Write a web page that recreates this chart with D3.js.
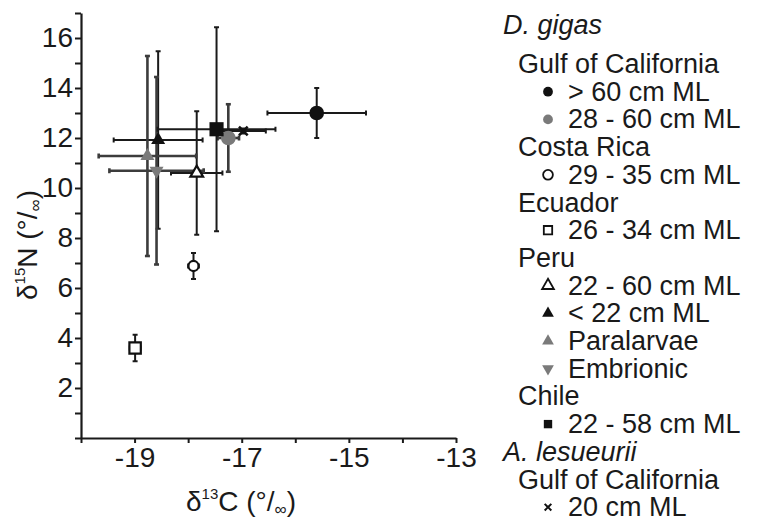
<!DOCTYPE html>
<html>
<head>
  <meta charset="utf-8">
  <title>d15N vs d13C</title>
  <script src="https://d3js.org/d3.v7.min.js"></script>
<style>
  body { margin: 0; background: #fff; }
  text { font-family: "Liberation Sans", Arial, sans-serif; fill: #1a1a1a; }
</style>
</head>
<body>
<div id="chart"></div>
<script>
// data
var labels = ["> 60 cm ML", "28 - 60 cm ML", "29 - 35 cm ML", "26 - 34 cm ML", "22 - 60 cm ML",
              "< 22 cm ML", "Paralarvae", "Embrionic", "22 - 58 cm ML", "20 cm ML"];
var d13C   = [-15.6, -17.25, -17.9, -18.99, -17.84, -18.56, -18.76, -18.59, -17.47, -16.97];
var d15N   = [13.0, 12.0, 6.88, 3.6, 10.6, 11.92, 11.28, 10.69, 12.35, 12.28];
var sdC    = [0.92, 0.2, 0.1, 0.1, 0.48, 0.83, 0.91, 0.88, 1.1, 0.42];
var sdN    = [1.0, 1.35, 0.52, 0.53, 2.47, 3.55, 4.0, 3.75, 4.08, 0.1];
var shapes = ["circle", "circle", "circle", "square", "triangle", "triangle", "triangle", "down", "square", "x"];
var fills  = ["black", "gray", "open", "open", "open", "black", "gray", "gray", "black", "black"];

// legend rows: [text, italic?, indent level, series index or -1]
var legendRows = [
  ["D. gigas", true, 0, -1],
  ["Gulf of California", false, 1, -1],
  [labels[0], false, 2, 0],
  [labels[1], false, 2, 1],
  ["Costa Rica", false, 1, -1],
  [labels[2], false, 2, 2],
  ["Ecuador", false, 1, -1],
  [labels[3], false, 2, 3],
  ["Peru", false, 1, -1],
  [labels[4], false, 2, 4],
  [labels[5], false, 2, 5],
  [labels[6], false, 2, 6],
  [labels[7], false, 2, 7],
  ["Chile", false, 1, -1],
  [labels[8], false, 2, 8],
  ["A. lesueurii", true, 0, -1],
  ["Gulf of California", false, 1, -1],
  [labels[9], false, 2, 9]
];

var xTicks = d3.range(-20, -12.5, 1);
var yTicks = d3.range(0, 17.5, 1);

var width = 761, height = 524;
var margin = {top: 13, left: 81};
var plotW = 375, plotH = 425;

var svg = d3.select("#chart").append("svg")
  .attr("width", width)
  .attr("height", height);

var g = svg.append("g")
  .attr("transform", "translate(" + margin.left + "," + margin.top + ")");

var x = d3.scaleLinear().domain([-20, -13]).range([0, plotW]);
var y = d3.scaleLinear().domain([0, 17]).range([plotH, 0]);

var data = labels.map(function(l, i) {
  return {label: l, x: d13C[i], y: d15N[i], ex: sdC[i], ey: sdN[i], shape: shapes[i], fill: fills[i]};
});

var colour = {black: "#111", gray: "#7a7a7a", open: "#fff"};
var barColour = {black: "#1a1a1a", gray: "#3c3c3c", open: "#1a1a1a"};

// custom symbols
var symDown = {
  draw: function(ctx, size) {
    var s = Math.sqrt(size / (Math.sqrt(3) / 4)), h = s * Math.sqrt(3) / 2;
    ctx.moveTo(0, h * 2 / 3);
    ctx.lineTo(s / 2, -h / 3);
    ctx.lineTo(-s / 2, -h / 3);
    ctx.closePath();
  }
};
var symX = {
  draw: function(ctx, size) {
    var r = Math.sqrt(size) / 2, w = r * 0.35;
    ctx.moveTo(-r, -r + w); ctx.lineTo(-w, 0); ctx.lineTo(-r, r - w);
    ctx.lineTo(-r + w, r); ctx.lineTo(0, w); ctx.lineTo(r - w, r);
    ctx.lineTo(r, r - w); ctx.lineTo(w, 0); ctx.lineTo(r, -r + w);
    ctx.lineTo(r - w, -r); ctx.lineTo(0, -w); ctx.lineTo(-r + w, -r);
    ctx.closePath();
  }
};
function symType(s) {
  if (s == "circle") return d3.symbolCircle;
  if (s == "square") return d3.symbolSquare;
  if (s == "triangle") return d3.symbolTriangle;
  if (s == "down") return symDown;
  return symX;
}
function plotSize(d) {
  if (d.shape == "circle") return d.fill == "open" ? 80 : 170;
  if (d.shape == "square") return d.fill == "open" ? 130 : 200;
  if (d.shape == "x") return 110;
  return d.fill == "open" ? 70 : 85;
}
var legSize = {circle: 75, square: 70, triangle: 60, down: 60, x: 65};

// axes
var yAxis = g.append("g")
  .call(d3.axisLeft(y).tickValues(yTicks).tickSize(6).tickSizeOuter(0)
    .tickFormat(function(d) { return (d % 2 == 0 && d > 0) ? d : ""; }));
var xAxis = g.append("g")
  .attr("transform", "translate(0," + plotH + ")")
  .call(d3.axisBottom(x).tickValues(xTicks).tickSize(5).tickSizeOuter(0)
    .tickFormat(function(d) { return (Math.abs(d) % 2 == 1) ? d3.format("d")(d).replace("−", "-") : ""; }));

[xAxis, yAxis].forEach(function(a) {
  a.select(".domain").attr("stroke", "#1a1a1a").attr("stroke-width", 2.2);
  a.selectAll(".tick line").attr("stroke", "#1a1a1a").attr("stroke-width", 2);
  a.selectAll(".tick text").style("font-size", "28px").attr("fill", "#1a1a1a")
    .style("font-family", "'Liberation Sans', Arial, sans-serif");
});
yAxis.selectAll(".tick text").attr("x", -8);
xAxis.selectAll(".tick text").attr("y", 9);

// axis titles
var xt = svg.append("text")
  .attr("x", margin.left + 160).attr("y", 511)
  .attr("text-anchor", "middle").style("font-size", "28px");
xt.append("tspan").text("δ");
xt.append("tspan").attr("dy", -12).style("font-size", "15px").text("13");
xt.append("tspan").attr("dy", 12).text("C (°/");
xt.append("tspan").attr("dy", 4).style("font-size", "17px").text("∞");
xt.append("tspan").attr("dy", -4).text(")");

var yt = svg.append("text")
  .attr("transform", "translate(37,245) rotate(-90)")
  .attr("text-anchor", "middle").style("font-size", "28px");
yt.append("tspan").text("δ");
yt.append("tspan").attr("dy", -12).style("font-size", "15px").text("15");
yt.append("tspan").attr("dy", 12).text("N (°/");
yt.append("tspan").attr("dy", 4).style("font-size", "17px").text("∞");
yt.append("tspan").attr("dy", -4).text(")");

// error bars
var cap = 2.5;
var bars = g.selectAll(".err").data(data).enter().append("g")
  .attr("stroke", function(d) { return barColour[d.fill]; })
  .attr("stroke-width", function(d) { return d.fill == "gray" ? 2.6 : 2; });
bars.append("line")
  .attr("x1", function(d) { return x(d.x - d.ex); })
  .attr("x2", function(d) { return x(d.x + d.ex); })
  .attr("y1", function(d) { return y(d.y); })
  .attr("y2", function(d) { return y(d.y); });
bars.append("line")
  .attr("x1", function(d) { return x(d.x); })
  .attr("x2", function(d) { return x(d.x); })
  .attr("y1", function(d) { return y(d.y - d.ey); })
  .attr("y2", function(d) { return y(d.y + d.ey); });
[-1, 1].forEach(function(s) {
  bars.append("line")
    .attr("x1", function(d) { return x(d.x + s * d.ex); })
    .attr("x2", function(d) { return x(d.x + s * d.ex); })
    .attr("y1", function(d) { return y(d.y) - cap; })
    .attr("y2", function(d) { return y(d.y) + cap; });
  bars.append("line")
    .attr("x1", function(d) { return x(d.x) - cap; })
    .attr("x2", function(d) { return x(d.x) + cap; })
    .attr("y1", function(d) { return y(d.y + s * d.ey); })
    .attr("y2", function(d) { return y(d.y + s * d.ey); });
});

// markers
g.selectAll(".pt").data(data).enter().append("path")
  .attr("transform", function(d) { return "translate(" + x(d.x) + "," + y(d.y) + ")"; })
  .attr("d", function(d) { return d3.symbol().type(symType(d.shape)).size(plotSize(d))(); })
  .attr("fill", function(d) { return colour[d.fill]; })
  .attr("stroke", function(d) { return d.fill == "open" ? "#111" : "none"; })
  .attr("stroke-width", 2.2);

// legend
var legX = 503, indent = [0, 15, 65], symX0 = 548;
var legY = function(i) { return i == 0 ? 34 : 73 + (i - 1) * 27.7; };
var leg = svg.append("g");
legendRows.forEach(function(r, i) {
  leg.append("text")
    .attr("x", legX + indent[r[2]])
    .attr("y", legY(i))
    .style("font-size", "27px")
    .style("font-style", r[1] ? "italic" : "normal")
    .text(r[0]);
  if (r[3] >= 0) {
    var d = data[r[3]];
    leg.append("path")
      .attr("transform", "translate(" + symX0 + "," + (legY(i) - 9) + ")")
      .attr("d", d3.symbol().type(symType(d.shape)).size(legSize[d.shape])())
      .attr("fill", colour[d.fill])
      .attr("stroke", d.fill == "open" ? "#111" : "none")
      .attr("stroke-width", 1.8);
  }
});
</script>
</body>
</html>
